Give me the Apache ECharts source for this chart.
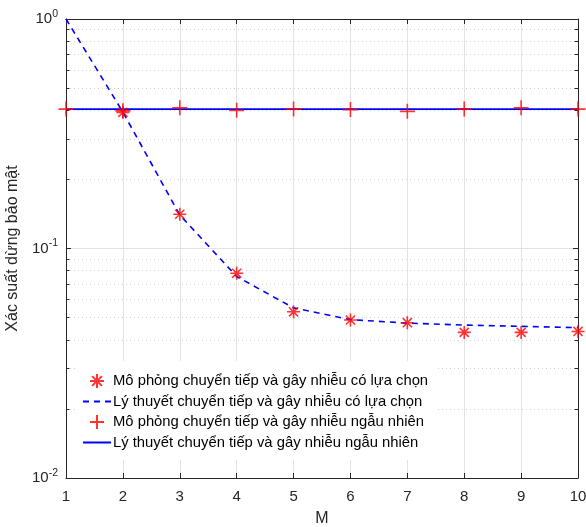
<!DOCTYPE html>
<html>
<head>
<meta charset="utf-8">
<script src="https://cdn.jsdelivr.net/npm/echarts@6/dist/echarts.min.js"></script>
<style>
html, body { margin: 0; padding: 0; background: #fff; }
#chart { width: 586px; height: 527px; }
</style>
</head>
<body>
<div id="chart"></div>
<script>
// Number of relays M
const relayCounts = [1, 2, 3, 4, 5, 6, 7, 8, 9, 10];
// Selective relaying and jamming: simulation and theory
const selectiveSim = [null, 0.392, 0.141, 0.078, 0.053, 0.0488, 0.0475, 0.0431, 0.0431, 0.0435];
const selectiveTheory = [1.0, 0.393, 0.140, 0.0755, 0.0551, 0.0490, 0.0473, 0.0464, 0.0458, 0.0452];
// Random relaying and jamming: simulation and theory
const randomSim = [0.405, 0.398, 0.41, 0.400, 0.405, 0.403, 0.396, 0.405, 0.41, 0.405];
const randomTheory = [0.405, 0.405, 0.405, 0.405, 0.405, 0.405, 0.405, 0.405, 0.405, 0.405];
// Minor decade values for dotted grid lines
const minorValues = [0.02, 0.03, 0.04, 0.05, 0.06, 0.07, 0.08, 0.09, 0.2, 0.3, 0.4, 0.5, 0.6, 0.7, 0.8, 0.9];

const seriesNames = [
  'Mô phỏng chuyển tiếp và gây nhiễu có lựa chọn',
  'Lý thuyết chuyển tiếp và gây nhiễu có lựa chọn',
  'Mô phỏng chuyển tiếp và gây nhiễu ngẫu nhiên',
  'Lý thuyết chuyển tiếp và gây nhiễu ngẫu nhiên'
];

const pairs = vals => relayCounts.map((m, i) => [m, vals[i]]).filter(p => p[1] != null);

const asterisk = 'path://M0,-10L0,10M-10,0L10,0M-7,-7L7,7M-7,7L7,-7';
const plus = 'path://M0,-10L0,10M-10,0L10,0';
const axisColor = '#262626';
const font = 'Liberation Sans, Arial, sans-serif';

const minorGrid = minorValues.map(v => ({ yAxis: v }));
const minorTicks = [];
minorValues.forEach(v => {
  minorTicks.push([{ coord: [1, v] }, { coord: [1.06, v] }]);
  minorTicks.push([{ coord: [10, v] }, { coord: [9.94, v] }]);
});

const chart = echarts.init(document.getElementById('chart'));
chart.setOption({
  animation: false,
  backgroundColor: '#fff',
  textStyle: { fontFamily: font },
  grid: { left: 66, right: 8, top: 19, bottom: 49, containLabel: false, outerBoundsMode: 'none' },
  xAxis: [{
    type: 'value', min: 1, max: 10, interval: 1,
    name: 'M', nameLocation: 'middle', nameGap: 33,
    nameTextStyle: { fontSize: 16, color: axisColor, fontFamily: font },
    axisLine: { lineStyle: { color: axisColor, width: 1 } },
    axisTick: { inside: true, length: 5, lineStyle: { color: axisColor } },
    axisLabel: { fontSize: 15, color: axisColor, margin: 11, fontFamily: font },
    splitLine: { show: true, lineStyle: { color: '#e3e3e3', width: 1 } }
  }, {
    type: 'value', min: 1, max: 10, interval: 1, position: 'top',
    axisLine: { show: true, lineStyle: { color: axisColor, width: 1 } },
    axisTick: { inside: true, length: 5, lineStyle: { color: axisColor } },
    axisLabel: { show: false }, splitLine: { show: false }
  }],
  yAxis: [{
    type: 'log', logBase: 10, min: 0.01, max: 1,
    name: 'Xác suất dừng bảo mật', nameLocation: 'middle', nameGap: 44, nameRotate: 90,
    nameTextStyle: { fontSize: 16, color: axisColor, fontFamily: font },
    axisLine: { show: true, lineStyle: { color: axisColor, width: 1 } },
    axisTick: { inside: true, length: 5, lineStyle: { color: axisColor } },
    axisLabel: {
      color: axisColor, margin: 8,
      formatter: v => '{b|10}{s|' + Math.round(Math.log10(v)) + '}',
      rich: {
        b: { fontSize: 15, color: axisColor, fontFamily: font },
        s: { fontSize: 10.5, color: axisColor, fontFamily: font, verticalAlign: 'top', padding: [0, 0, 10, 0] }
      }
    },
    splitLine: { show: true, lineStyle: { color: '#e3e3e3', width: 1 } }
  }, {
    type: 'log', logBase: 10, min: 0.01, max: 1, position: 'right',
    axisLine: { show: true, lineStyle: { color: axisColor, width: 1 } },
    axisTick: { inside: true, length: 5, lineStyle: { color: axisColor } },
    axisLabel: { show: false }, splitLine: { show: false }
  }],
  legend: {
    orient: 'vertical', left: 78, top: 361,
    backgroundColor: '#fff', padding: [12, 10, 10, 4],
    itemWidth: 28, itemHeight: 14, itemGap: 5,
    textStyle: { fontSize: 14.8, color: '#000', fontFamily: font, padding: [0, 0, 0, -3] },
    data: [
      { name: seriesNames[0] },
      { name: seriesNames[1], itemStyle: { opacity: 0 } },
      { name: seriesNames[2] },
      { name: seriesNames[3], itemStyle: { opacity: 0 } }
    ]
  },
  series: [{
    name: seriesNames[0], type: 'scatter', z: 5,
    data: pairs(selectiveSim),
    symbol: asterisk, symbolSize: 13,
    itemStyle: { color: 'rgba(0,0,0,0)', borderColor: '#ff0000', borderWidth: 1.6 }
  }, {
    name: seriesNames[1], type: 'line', z: 4,
    data: pairs(selectiveTheory),
    showSymbol: false, symbol: 'none',
    lineStyle: { color: '#0000ff', width: 1.6, type: [6, 5] },
    itemStyle: { color: '#0000ff' }
  }, {
    name: seriesNames[2], type: 'scatter', z: 5,
    data: pairs(randomSim),
    symbol: plus, symbolSize: 15,
    itemStyle: { color: 'rgba(0,0,0,0)', borderColor: '#ff0000', borderWidth: 1.6 }
  }, {
    name: seriesNames[3], type: 'line', z: 3,
    data: pairs(randomTheory),
    showSymbol: false, symbol: 'none',
    lineStyle: { color: '#0000ff', width: 1.6 },
    itemStyle: { color: '#0000ff' },
    markLine: {
      silent: true, symbol: 'none', z: 1,
      label: { show: false },
      lineStyle: { color: '#cfcfcf', type: [1, 3], width: 1 },
      data: minorGrid.concat(minorTicks.map(seg => [
        Object.assign({}, seg[0], { lineStyle: { color: axisColor, type: 'solid', width: 1 } }),
        seg[1]
      ]))
    }
  }]
});
</script>
</body>
</html>
